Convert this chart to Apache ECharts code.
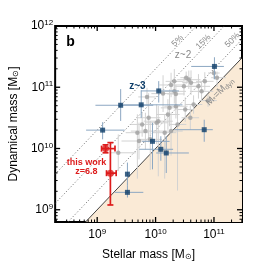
<!DOCTYPE html>
<html><head><meta charset="utf-8">
<script src="https://cdn.jsdelivr.net/npm/echarts@6/dist/echarts.min.js"></script>
<style>html,body{margin:0;padding:0;background:#fff}#c{width:269px;height:266px}</style>
</head><body><div id="c"></div>
<script>
// Axis ranges (log10 of solar masses)
const X_MIN = 8.28, X_MAX = 11.48, Y_MIN = 8.8, Y_MAX = 12;
const xMajorTicks = [9, 10, 11];
const yMajorTicks = [9, 10, 11, 12];
const minorMultipliers = [2, 3, 4, 5, 6, 7, 8, 9];

// gas-fraction reference lines: Mdyn = M* / f
const fracLabels = ['5%', '15%', '50%'];
const fracValues = [0.05, 0.15, 0.5];

// z~2 comparison sample (gray), log10 values
const grayMstar = [9.853,10.265,10.348,10.321,10.486,10.569,10.524,10.607,10.734,10.788,10.998,11.052,10.128,10.321,10.899,9.881,10.018,10.239,10.348,10.156,9.688,9.826,10.595,10.376,10.508,10.651,10.265,9.716,9.909,9.361,10.046,10.211,9.770,10.843];
const grayMdyn  = [10.842,11.037,10.891,11.096,11.015,11.123,11.156,11.075,11.015,10.933,11.232,11.156,10.896,10.933,10.782,10.502,10.420,10.664,10.690,10.258,10.258,10.284,10.502,10.393,10.636,10.718,10.284,10.122,10.149,9.930,10.446,10.555,10.393,11.096];
const grayXerrLo = [0.15,0.2,0.15,0.15,0.15,0.2,0.1,0.15,0.2,0.2,0.1,0.1,0.2,0.2,0.15,0.2,0.2,0.15,0.2,0.2,0.2,0.25,0.15,0.15,0.15,0.15,0.2,0.3,0.2,0.15,0.25,0.2,0.2,0.15];
const grayXerrHi = [0.15,0.2,0.15,0.15,0.25,0.2,0.1,0.15,0.2,0.2,0.1,0.15,0.2,0.2,0.15,0.2,0.2,0.15,0.2,0.2,0.2,0.25,0.15,0.15,0.15,0.15,0.2,0.3,0.2,0.3,0.25,0.2,0.2,0.15];
const grayYerrLo = [0.15,0.2,0.25,0.15,0.15,0.15,0.1,0.2,0.2,0.15,0.1,0.15,0.3,0.2,0.1,0.4,0.35,0.3,0.2,0.75,0.75,0.3,0.2,1.08,0.2,0.15,0.4,0.3,0.5,0.3,0.9,0.25,0.2,0.15];
const grayYerrHi = [0.15,0.2,0.15,0.2,0.15,0.15,0.1,0.2,0.2,0.15,0.15,0.1,0.3,0.2,0.1,0.4,0.3,0.3,0.2,0.3,0.3,0.3,0.2,0.3,0.2,0.15,0.3,0.3,0.3,0.3,0.25,0.25,0.2,0.15];

// z~3 comparison sample (blue), log10 values with error ranges
const blueMstar = [9.402, 9.754, 9.093, 9.518, 9.518, 11.008, 10.833, 9.947, 10.09, 10.183, 10.054];
const blueMdyn  = [10.706, 10.713, 10.30, 9.581, 9.284, 11.34, 10.307, 10.117, 9.987, 9.927, 10.94];
const blueXlo = [8.97, 9.45, 8.81, 9.518, 9.30, 10.61, 10.32, 9.77, 9.72, 10.01, 9.75];
const blueXhi = [9.96, 10.46, 9.47, 9.518, 9.79, 11.17, 10.98, 10.24, 10.30, 10.57, 10.40];
const blueYlo = [10.45, 10.5, 10.15, 9.39, 9.2, 11.13, 10.11, 9.66, 9.8, 9.6, 10.75];
const blueYhi = [10.97, 10.95, 10.43, 9.77, 9.39, 11.49, 10.47, 10.42, 10.2, 10.2, 11.1];

// this work, z = 6.8 (red)
const redMstar = [9.143, 9.226];
const redMdyn  = [9.998, 9.597];
const redXlo = [9.075, 9.16];
const redXhi = [9.305, 9.325];
const redYlo = [9.93, 9.078];
const redYhi = [10.06, 10.096];

const FONT = "'Liberation Sans', Arial, sans-serif";

// build tick list
const ticks = [];
function addTicks(axis, majors, lo, hi) {
  for (let n = Math.floor(lo); n <= Math.ceil(hi); n++) {
    if (majors.indexOf(n) >= 0) ticks.push([n, axis, 1]);
    minorMultipliers.forEach(k => {
      const v = n + Math.log10(k);
      if (v > lo && v < hi) ticks.push([v, axis, 0]);
    });
  }
}
addTicks(0, xMajorTicks, X_MIN, X_MAX);
addTicks(1, yMajorTicks, Y_MIN, Y_MAX);

function errSeries(name, xs, ys, xlo, xhi, ylo, yhi, color, width, cap, z) {
  const data = xs.map((x, i) => [x, ys[i], xlo[i], xhi[i], ylo[i], yhi[i]]);
  return {
    type: 'custom', name, z, data, silent: true,
    encode: { x: [0, 2, 3], y: [1, 4, 5] },
    renderItem: (params, api) => {
      const x = api.value(0), y = api.value(1);
      const pL = api.coord([api.value(2), y]), pR = api.coord([api.value(3), y]);
      const pB = api.coord([x, api.value(4)]), pT = api.coord([x, api.value(5)]);
      const st = { stroke: color, lineWidth: width };
      const ch = [
        { type: 'line', shape: { x1: pL[0], y1: pL[1], x2: pR[0], y2: pR[1] }, style: st },
        { type: 'line', shape: { x1: pB[0], y1: pB[1], x2: pT[0], y2: pT[1] }, style: st }
      ];
      if (cap) {
        ch.push({ type: 'line', shape: { x1: pL[0], y1: pL[1] - cap, x2: pL[0], y2: pL[1] + cap }, style: st });
        ch.push({ type: 'line', shape: { x1: pR[0], y1: pR[1] - cap, x2: pR[0], y2: pR[1] + cap }, style: st });
        ch.push({ type: 'line', shape: { x1: pB[0] - cap, y1: pB[1], x2: pB[0] + cap, y2: pB[1] }, style: st });
        ch.push({ type: 'line', shape: { x1: pT[0] - cap, y1: pT[1], x2: pT[0] + cap, y2: pT[1] }, style: st });
      }
      return { type: 'group', children: ch };
    }
  };
}

const notes = [
  { pos: [8.544, 11.74], text: 'b', size: 14, weight: 'bold', color: '#000' },
  { pos: [9.69, 11.015], text: 'z~3', size: 10, weight: 'bold', color: '#0c3c68' },
  { pos: [10.47, 11.53], text: 'z~2', size: 10, weight: 'normal', color: '#888' },
  { pos: [8.816, 9.70], text: 'this work\nz=6.8', size: 9, weight: 'bold', color: '#dd1c1c', lh: 9 },
  { pos: [10.376, 11.756], text: fracLabels[0], size: 8.5, weight: 'normal', color: '#8a8a8a', rot: 45 },
  { pos: [10.82, 11.74], text: fracLabels[1], size: 8.5, weight: 'normal', color: '#8a8a8a', rot: 45 },
  { pos: [11.316, 11.77], text: fracLabels[2], size: 8.5, weight: 'normal', color: '#8a8a8a', rot: 45 },
  { pos: [11.10, 10.93], text: 'M{s|*}=M{s|dyn}', size: 9.5, weight: 'normal', color: '#8a8a8a', rot: 45 }
];

const supRich = {
  b: { fontSize: 12, fontFamily: FONT, color: '#000', lineHeight: 14 },
  sup: { fontSize: 8, fontFamily: FONT, color: '#000', verticalAlign: 'top', lineHeight: 8 }
};
const labFmt = v => Math.abs(v - Math.round(v)) < 1e-6 ? '{b|10}{sup|' + Math.round(v) + '}' : '';

const fracLines = fracValues.map((f, i) => {
  const off = -Math.log10(f);
  return {
    type: 'line', name: fracLabels[i], z: 3, silent: true, symbol: 'none',
    data: [[X_MIN, X_MIN + off], [X_MAX, X_MAX + off]],
    lineStyle: { color: '#666', width: 1, type: [1, 2.2] }
  };
});

const option = {
  animation: false,
  grid: { left: 48, right: 27, top: 26, bottom: 43, show: true, borderColor: '#000', borderWidth: 2, backgroundColor: 'transparent' },
  xAxis: {
    type: 'value', min: X_MIN, max: X_MAX,
    name: 'Stellar mass [M{s|⊙}]', nameLocation: 'middle', nameGap: 27,
    nameTextStyle: { fontSize: 12, fontFamily: FONT, color: '#000', rich: { s: { fontSize: 8, fontFamily: FONT, color: '#000', verticalAlign: 'bottom', padding: [4, 0, 0, 0] } } },
    axisLine: { show: false }, axisTick: { show: false }, splitLine: { show: false },
    axisLabel: { interval: 0, formatter: labFmt, rich: supRich, margin: 6 }
  },
  yAxis: {
    type: 'value', min: Y_MIN, max: Y_MAX,
    name: 'Dynamical mass [M{s|⊙}]', nameLocation: 'middle', nameGap: 31, nameRotate: 90,
    nameTextStyle: { fontSize: 12, fontFamily: FONT, color: '#000', rich: { s: { fontSize: 8, fontFamily: FONT, color: '#000', verticalAlign: 'bottom', padding: [4, 0, 0, 0] } } },
    axisLine: { show: false }, axisTick: { show: false }, splitLine: { show: false },
    axisLabel: { interval: 0, formatter: labFmt, rich: supRich, margin: 2 }
  },
  series: [
    {
      type: 'line', name: 'M*=Mdyn', z: 2, silent: true, symbol: 'none',
      data: [[Y_MIN, Y_MIN], [X_MAX, X_MAX]],
      lineStyle: { color: '#444', width: 1 },
      areaStyle: { color: '#faead6', opacity: 1, origin: 'start' }
    },
    ...fracLines,
    errSeries('grayErr', grayMstar, grayMdyn,
      grayMstar.map((v, i) => v - grayXerrLo[i]), grayMstar.map((v, i) => v + grayXerrHi[i]),
      grayMdyn.map((v, i) => v - grayYerrLo[i]), grayMdyn.map((v, i) => v + grayYerrHi[i]),
      '#d2d2d2', 1, 0, 4),
    {
      type: 'scatter', name: 'z~2', z: 5, symbol: 'circle', symbolSize: 4.5,
      itemStyle: { color: '#a0a0a0' },
      data: grayMstar.map((x, i) => [x, grayMdyn[i]])
    },
    errSeries('blueErr', blueMstar, blueMdyn, blueXlo, blueXhi, blueYlo, blueYhi, '#8ca7c2', 1, 0, 6),
    {
      type: 'scatter', name: 'z~3', z: 7, symbol: 'rect', symbolSize: 5,
      itemStyle: { color: '#0c3c68' },
      data: blueMstar.map((x, i) => [x, blueMdyn[i]])
    },
    errSeries('redErr', redMstar, redMdyn, redXlo, redXhi, redYlo, redYhi, '#dd1c1c', 1.7, 3, 8),
    {
      type: 'scatter', name: 'this work', z: 9, symbol: 'circle', symbolSize: 7,
      itemStyle: { color: '#dd1c1c' },
      data: redMstar.map((x, i) => [x, redMdyn[i]])
    },
    {
      type: 'custom', name: 'ticks', z: 10, silent: true, data: ticks,
      encode: { x: 0, y: -1 },
      renderItem: (params, api) => {
        const v = api.value(0), ax = api.value(1), major = api.value(2);
        const len = major ? 5 : 2.5;
        const st = { stroke: '#000', lineWidth: major ? 1.3 : 1 };
        if (ax === 0) {
          const b = api.coord([v, Y_MIN]), t = api.coord([v, Y_MAX]);
          return { type: 'group', children: [
            { type: 'line', shape: { x1: b[0], y1: b[1], x2: b[0], y2: b[1] - len }, style: st },
            { type: 'line', shape: { x1: t[0], y1: t[1], x2: t[0], y2: t[1] + len }, style: st }
          ] };
        }
        const l = api.coord([X_MIN, v]), r = api.coord([X_MAX, v]);
        return { type: 'group', children: [
          { type: 'line', shape: { x1: l[0], y1: l[1], x2: l[0] + len, y2: l[1] }, style: st },
          { type: 'line', shape: { x1: r[0], y1: r[1], x2: r[0] - len, y2: r[1] }, style: st }
        ] };
      }
    },
    {
      type: 'custom', name: 'notes', z: 11, silent: true,
      data: notes.map(n => n.pos),
      renderItem: (params, api) => {
        const n = notes[params.dataIndex];
        const p = api.coord([api.value(0), api.value(1)]);
        return {
          type: 'text', x: p[0], y: p[1], rotation: (n.rot || 0) * Math.PI / 180,
          style: {
            text: n.text, fill: n.color, fontSize: n.size, fontWeight: n.weight, fontFamily: FONT,
            align: 'center', verticalAlign: 'middle', lineHeight: n.lh || n.size + 2,
            rich: { s: { fontSize: Math.round(n.size * 0.7), fill: n.color, fontFamily: FONT, verticalAlign: 'bottom', padding: [3, 0, 0, 0] } }
          }
        };
      }
    }
  ]
};
const chart = echarts.init(document.getElementById('c'), null, { renderer: 'canvas' });
chart.setOption(option);
</script></body></html>
